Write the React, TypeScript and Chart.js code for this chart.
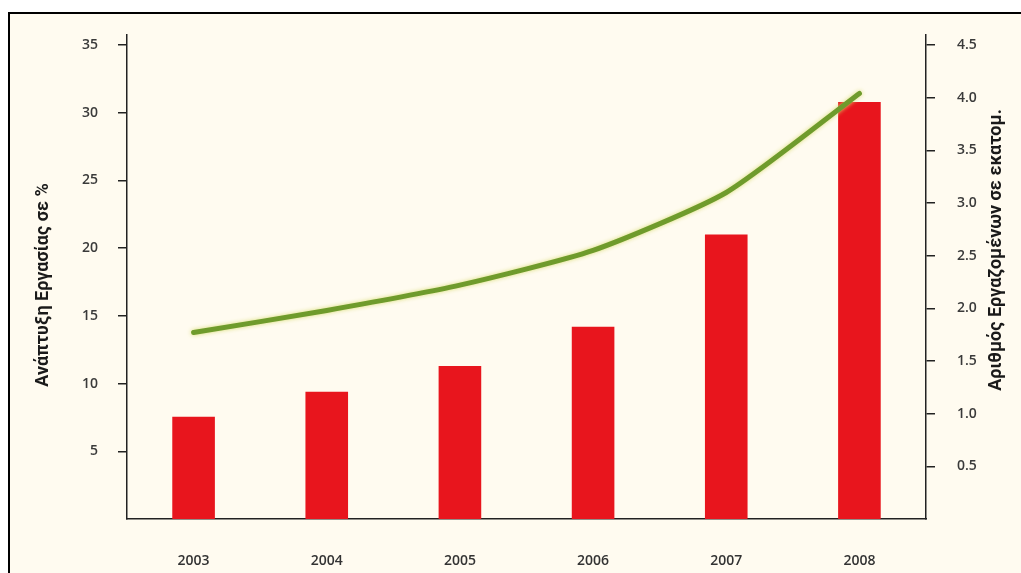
import React, { useEffect, useRef } from "react";
import { Chart, registerables } from "chart.js";

Chart.register(...registerables);

const years = ["2003", "2004", "2005", "2006", "2007", "2008"];
const growthPct = [7.55, 9.4, 11.3, 14.2, 21.0, 30.8];
const employeesMillions = [1.77, 1.98, 2.22, 2.55, 3.1, 4.04];
const leftTicks = [5, 10, 15, 20, 25, 30, 35];
const rightTicks = [0.5, 1.0, 1.5, 2.0, 2.5, 3.0, 3.5, 4.0, 4.5];
const leftTitle = "Ανάπτυξη Εργασίας σε %";
const rightTitle = "Αριθμός Εργαζομένων σε εκατομ.";

const LEFT_MAX = 35.74;
const RIGHT_MAX = (LEFT_MAX * 4.5) / 35;

const titleFont = "bold 18px 'Liberation Sans Narrow', 'Roboto', sans-serif";

const sideTitles = {
  id: "sideTitles",
  afterDraw(chart: any) {
    const ctx = chart.ctx;
    const draw = (text: string, x: number, y: number) => {
      ctx.save();
      ctx.translate(x, y);
      ctx.rotate(-Math.PI / 2);
      ctx.font = titleFont;
      ctx.fillStyle = "#1a1a1a";
      ctx.textAlign = "center";
      ctx.textBaseline = "middle";
      ctx.fillText(text, 0, 0);
      ctx.restore();
    };
    draw(leftTitle, 43, 285);
    draw(rightTitle, 996, 250);
  },
};

const lineGlow = {
  id: "lineGlow",
  beforeDatasetDraw(chart: any, args: any) {
    if (chart.data.datasets[args.index].type === "line") {
      const ctx = chart.ctx;
      ctx.save();
      ctx.shadowColor = "rgba(215, 220, 110, 0.95)";
      ctx.shadowBlur = 4;
    }
  },
  afterDatasetDraw(chart: any, args: any) {
    if (chart.data.datasets[args.index].type === "line") {
      chart.ctx.restore();
    }
  },
};

export default function App() {
  const ref = useRef<HTMLCanvasElement | null>(null);

  useEffect(() => {
    if (!ref.current) return;
    const tickFont = { family: "'Open Sans', sans-serif", size: 14, weight: 600 as any };
    const chart = new Chart(ref.current, {
      type: "bar",
      data: {
        labels: years,
        datasets: [
          {
            type: "line" as any,
            label: "employees",
            data: employeesMillions,
            yAxisID: "y1",
            borderColor: "#6f9b2c",
            borderWidth: 5,
            pointRadius: 0,
            tension: 0.2,
            borderCapStyle: "round",
            order: 1,
          } as any,
          {
            type: "bar" as any,
            label: "growth",
            data: growthPct,
            yAxisID: "y",
            backgroundColor: "#e8151d",
            barPercentage: 0.32,
            categoryPercentage: 1,
            order: 2,
          } as any,
        ],
      },
      options: {
        animation: false,
        responsive: false,
        devicePixelRatio: 1,
        layout: { padding: { top: 35, left: 0, right: 0, bottom: 0 } },
        plugins: {
          legend: { display: false },
          tooltip: { enabled: false },
        },
        scales: {
          x: {
            grid: { display: false },
            border: { display: true, color: "#222", width: 1.5 },
            ticks: { color: "#333", font: tickFont, padding: 26 },
            afterFit: (s: any) => {
              s.height = 54;
            },
          },
          y: {
            position: "left",
            min: 0,
            max: LEFT_MAX,
            afterBuildTicks: (s: any) => {
              s.ticks = leftTicks.map((v) => ({ value: v }));
            },
            grid: {
              drawOnChartArea: false,
              drawTicks: true,
              tickLength: 9,
              color: "#222",
              lineWidth: 1.5,
            },
            border: { display: true, color: "#222", width: 1.5 },
            ticks: { color: "#3a3a3a", font: tickFont, padding: 20 },
            afterFit: (s: any) => {
              s.width = 127;
            },
          },
          y1: {
            position: "right",
            min: 0,
            max: RIGHT_MAX,
            afterBuildTicks: (s: any) => {
              s.ticks = rightTicks.map((v) => ({ value: v }));
            },
            grid: {
              drawOnChartArea: false,
              drawTicks: true,
              tickLength: 9,
              color: "#222",
              lineWidth: 1.5,
            },
            border: { display: true, color: "#222", width: 1.5 },
            ticks: {
              color: "#3a3a3a",
              font: tickFont,
              padding: 22,
              callback: (v: any) => Number(v).toFixed(1),
            },
            afterFit: (s: any) => {
              s.width = 95;
            },
          },
        },
      },
      plugins: [sideTitles, lineGlow],
    });
    return () => chart.destroy();
  }, []);

  return (
    <div>
      <div
        style={{
          position: "fixed",
          left: 8,
          top: 12,
          right: -10,
          bottom: -10,
          borderTop: "2px solid #000",
          borderLeft: "2px solid #000",
          background: "#fffbf0",
        }}
      />
      <canvas
        ref={ref}
        width={1021}
        height={573}
        style={{ position: "fixed", left: 0, top: 0, width: 1021, height: 573 }}
      />
    </div>
  );
}
